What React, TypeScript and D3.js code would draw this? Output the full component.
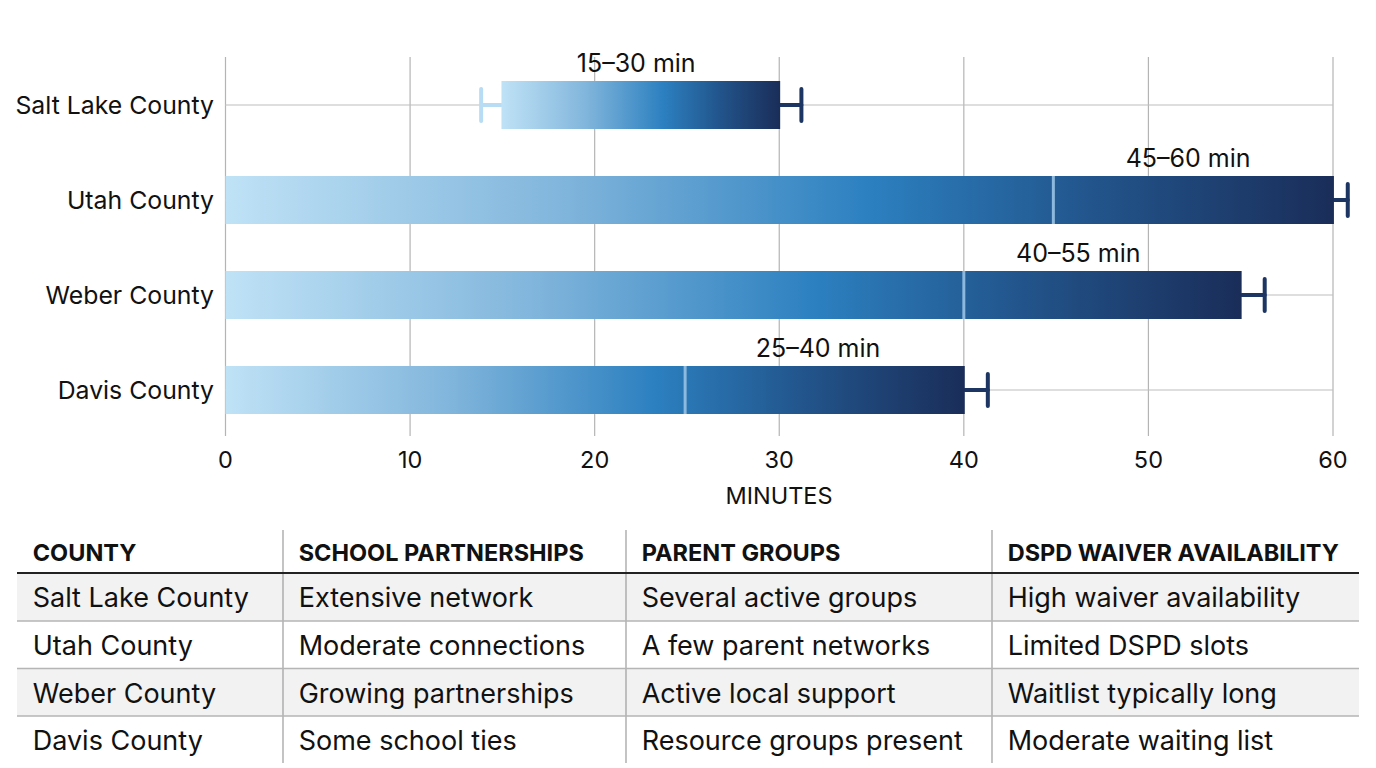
import React from "react";
import * as d3 from "d3";

const counties = ["Salt Lake County", "Utah County", "Weber County", "Davis County"];
const barStart = [14.95, 0, 0, 0];
const barEnd = [30.05, 60.05, 55.05, 40.05];
const dividers: (number | null)[] = [null, 44.85, 40, 24.9];
const whiskerLow: (number | null)[] = [13.85, null, null, null];
const whiskerHigh = [31.2, 60.8, 56.3, 41.3];
const rangeLabels = ["15–30 min", "45–60 min", "40–55 min", "25–40 min"];
const labelAt = [22.25, 52.15, 46.2, 32.1];
const xTicks = [0, 10, 20, 30, 40, 50, 60];
const tableHeaders = ["COUNTY", "SCHOOL PARTNERSHIPS", "PARENT GROUPS", "DSPD WAIVER AVAILABILITY"];
const partnerships = ["Extensive network", "Moderate connections", "Growing partnerships", "Some school ties"];
const parentGroups = ["Several active groups", "A few parent networks", "Active local support", "Resource groups present"];
const waivers = ["High waiver availability", "Limited DSPD slots", "Waitlist typically long", "Moderate waiting list"];

const FONT = "Inter, 'Noto Sans', sans-serif";
const x = d3.scaleLinear().domain([0, 60]).range([225.5, 1333]);
const y = d3.scaleBand().domain(counties).range([57.5, 437.5]).paddingInner(47 / 95).paddingOuter(23.5 / 95);
const columnEdges = [17, 283, 626, 992, 1359];
const rowLines = [573, 621, 668.5, 716, 763];

export default function App() {
  const columns = [counties, partnerships, parentGroups, waivers];
  return (
    <svg width={1376} height={768} style={{ position: "fixed", left: 0, top: 0, background: "#fff" }} fontFamily={FONT}>
      <defs>
        <linearGradient id="barFill" x1="0" x2="1" y1="0" y2="0">
          <stop offset="0" stopColor="#bfe2f6" />
          <stop offset="0.3" stopColor="#82b6dc" />
          <stop offset="0.58" stopColor="#2c80c0" />
          <stop offset="0.78" stopColor="#22558c" />
          <stop offset="1" stopColor="#1a2d59" />
        </linearGradient>
      </defs>

      {xTicks.map((t) => (
        <line key={t} x1={x(t)} x2={x(t)} y1={57} y2={436} stroke="#b4b4b4" strokeWidth={1.2} />
      ))}
      {counties.map((c) => (
        <line key={c} x1={225} x2={1333} y1={y(c)! + y.bandwidth() / 2} y2={y(c)! + y.bandwidth() / 2} stroke="#bdbdbd" strokeWidth={1.2} />
      ))}
      {xTicks.map((t) => (
        <text key={t} x={x(t)} y={468} textAnchor="middle" fontSize={23.5} fill="#111">{t}</text>
      ))}
      <text x={779} y={504} textAnchor="middle" fontSize={23.5} fill="#111">MINUTES</text>

      {counties.map((c, i) => {
        const top = y(c)!;
        const h = y.bandwidth();
        const mid = top + h / 2;
        const d = dividers[i];
        const lo = whiskerLow[i];
        return (
          <g key={c}>
            <text x={214} y={mid + 9} textAnchor="end" fontSize={24.8} fill="#111">{c}</text>
            {lo !== null && (
              <g stroke="#b7dcf3" strokeWidth={4} strokeLinecap="round">
                <line x1={x(lo)} x2={x(barStart[i])} y1={mid} y2={mid} />
                <line x1={x(lo)} x2={x(lo)} y1={mid - 16} y2={mid + 16} />
              </g>
            )}
            <g stroke="#1c3563" strokeWidth={4} strokeLinecap="round">
              <line x1={x(barEnd[i])} x2={x(whiskerHigh[i])} y1={mid} y2={mid} />
              <line x1={x(whiskerHigh[i])} x2={x(whiskerHigh[i])} y1={mid - 16} y2={mid + 16} />
            </g>
            <rect x={x(barStart[i])} y={top} width={x(barEnd[i]) - x(barStart[i])} height={h} fill="url(#barFill)" />
            {d !== null && (
              <line x1={x(d)} x2={x(d)} y1={top} y2={top + h} stroke="#8db9de" strokeWidth={3} />
            )}
            <text x={x(labelAt[i])} y={top - 9} textAnchor="middle" fontSize={25} fill="#111">{rangeLabels[i]}</text>
          </g>
        );
      })}

      {counties.map((c, i) =>
        i % 2 === 0 ? (
          <rect key={c} x={columnEdges[0]} y={rowLines[i]} width={columnEdges[4] - columnEdges[0]} height={rowLines[i + 1] - rowLines[i]} fill="#f2f2f2" />
        ) : null
      )}
      {columnEdges.slice(1, 4).map((e) => (
        <line key={e} x1={e} x2={e} y1={530} y2={763} stroke="#9c9c9c" strokeWidth={1.2} />
      ))}
      <line x1={17} x2={1359} y1={573} y2={573} stroke="#222" strokeWidth={1.8} />
      {rowLines.slice(1, 4).map((r) => (
        <line key={r} x1={17} x2={1359} y1={r} y2={r} stroke="#b5b5b5" strokeWidth={1.4} />
      ))}
      {tableHeaders.map((h, j) => (
        <text key={h} x={columnEdges[j] + 15.7} y={561} fontSize={23.5} fontWeight={700} fill="#111">{h}</text>
      ))}
      {columns.map((col, j) =>
        col.map((t, i) => (
          <text key={t + j} x={columnEdges[j] + 15.7} y={rowLines[i] + 34} fontSize={27} fill="#111">{t}</text>
        ))
      )}
    </svg>
  );
}
